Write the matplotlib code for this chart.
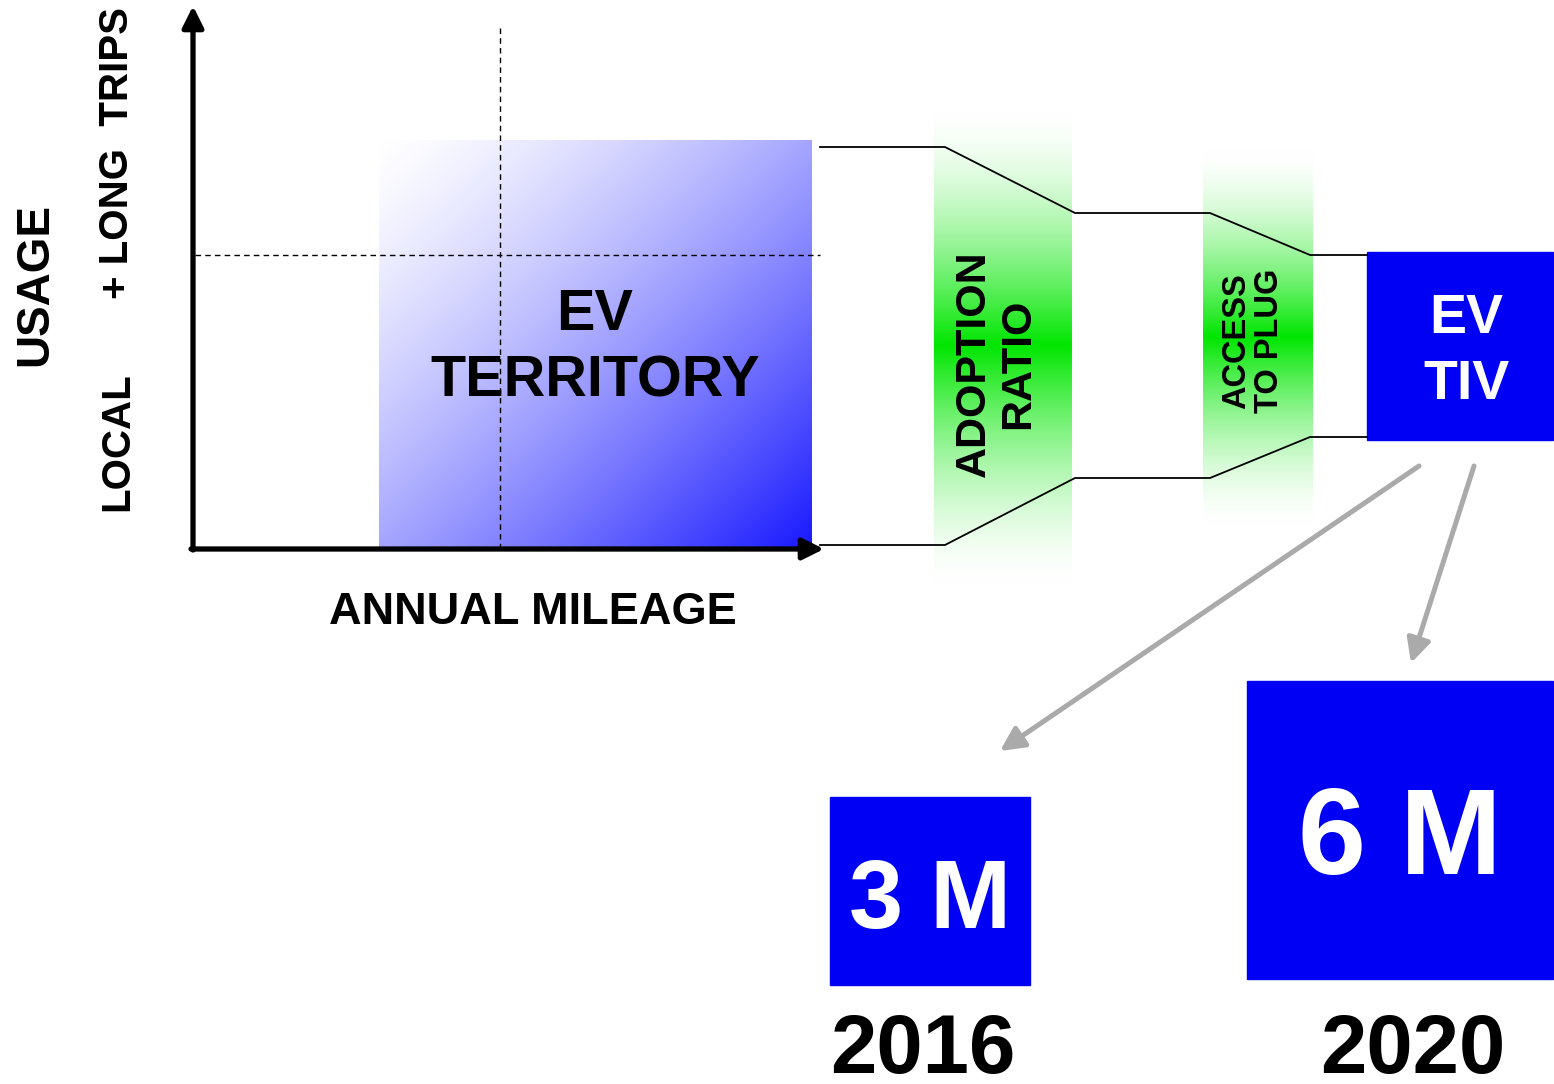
import numpy as np
import matplotlib
matplotlib.use("Agg")
import matplotlib.pyplot as plt
from matplotlib.patches import Rectangle

plt.rcParams['font.family'] = ['Liberation Sans', 'DejaVu Sans']

# --- data ---
funnel_stages = ["ADOPTION\nRATIO", "ACCESS\nTO PLUG"]
funnel_top = [147, 147, 213, 213, 255, 255]      # upper edge of funnel (px from top)
funnel_bottom = [545, 545, 478, 478, 437, 437]   # lower edge of funnel
funnel_x = [820, 945, 1075, 1210, 1310, 1367]
tiv_values = ["3 M", "6 M"]
tiv_years = ["2016", "2020"]

W, H = 1554, 1084
fig = plt.figure(figsize=(W / 100, H / 100), dpi=100)
ax = fig.add_axes([0, 0, 1, 1])
ax.set_xlim(0, W)
ax.set_ylim(H, 0)
ax.axis('off')

# EV territory gradient (white top-left -> blue bottom-right)
gx0, gx1, gy0, gy1 = 379, 812, 140, 548
nx, ny = 200, 200
u = np.linspace(0, 1, nx)[None, :]
v = np.linspace(0, 1, ny)[:, None]
t = np.clip((u + v) / 2, 0, 1) ** 1.35
img = np.zeros((ny, nx, 3))
img[..., 0] = 1 - t * (1 - 25 / 255)
img[..., 1] = 1 - t * (1 - 25 / 255)
img[..., 2] = 1.0
ax.imshow(img, extent=(gx0, gx1, gy1, gy0), aspect='auto', zorder=1)

# dashed quadrant lines
ax.plot([195, 820], [255, 255], ls=(0, (4, 3)), color='black', lw=1, zorder=2)
ax.plot([500, 500], [28, 548], ls=(0, (4, 3)), color='black', lw=1, zorder=2)

# axes arrows
ax.annotate('', xy=(193, 6), xytext=(193, 550),
            arrowprops=dict(arrowstyle='-|>', lw=3.8, color='black', mutation_scale=32,
                            shrinkA=0, shrinkB=0), zorder=3)
ax.annotate('', xy=(824, 549), xytext=(191, 549),
            arrowprops=dict(arrowstyle='-|>', lw=3.8, color='black', mutation_scale=32,
                            shrinkA=0, shrinkB=0), zorder=3)

ax.text(595, 348, "EV\nTERRITORY", ha='center', va='center', fontsize=41.5,
        fontweight='bold', linespacing=1.3, zorder=4)
ax.text(533, 613, "ANNUAL MILEAGE", ha='center', va='center', fontsize=32.5,
        fontweight='bold')
ax.text(35, 284, "USAGE", ha='center', va='center', fontsize=33,
        fontweight='bold', rotation=90)
ax.text(117, 442, "LOCAL", ha='center', va='center', fontsize=29,
        fontweight='bold', rotation=90)
ax.text(117, 153, "+ LONG  TRIPS", ha='center', va='center', fontsize=29,
        fontweight='bold', rotation=90)

# green funnel bands
def green_band(x0, x1, y0, y1, yc):
    n = 400
    ys = np.linspace(y0, y1, n)
    d = np.where(ys < yc, (yc - ys) / (yc - y0), (ys - yc) / (y1 - yc))
    w = np.clip(1 - d, 0, 1) ** 1.6
    band = np.ones((n, 2, 3))
    band[..., 0] = (1 - w)[:, None]
    band[..., 1] = (1 - w * (1 - 230 / 255))[:, None]
    band[..., 2] = (1 - w)[:, None]
    ax.imshow(band, extent=(x0, x1, y1, y0), aspect='auto', zorder=1,
              interpolation='bilinear')

green_band(934, 1072, 110, 585, 345)
green_band(1203, 1313, 150, 525, 337)

ax.plot(funnel_x, funnel_top, color='black', lw=1.3, zorder=3)
ax.plot(funnel_x, funnel_bottom, color='black', lw=1.3, zorder=3)

ax.text(996, 364, funnel_stages[0], ha='center', va='center', fontsize=31,
        fontweight='bold', rotation=90, linespacing=1.12, zorder=4)
ax.text(1253, 341, funnel_stages[1], ha='center', va='center', fontsize=23.5,
        fontweight='bold', rotation=90, linespacing=1.1, zorder=4)

blue = '#0000f5'
# EV TIV box
ax.add_patch(Rectangle((1367, 252), 186, 188, color=blue, zorder=2))
ax.text(1466, 352, "EV\nTIV", ha='center', va='center', fontsize=40,
        fontweight='bold', color='white', linespacing=1.35, zorder=4)

# gray arrows to yearly boxes
for start, end in [((1419, 466), (1000, 751)), ((1474, 466), (1411, 663))]:
    ax.annotate('', xy=end, xytext=start,
                arrowprops=dict(arrowstyle='-|>', lw=3.6, color='#aaaaaa',
                                mutation_scale=36, shrinkA=0, shrinkB=0), zorder=3)

# yearly TIV boxes
boxes = [(830, 797, 200, 188), (1247, 681, 306, 298)]
value_sizes = [70, 88]
for (bx, by, bw, bh), val, fs in zip(boxes, tiv_values, value_sizes):
    ax.add_patch(Rectangle((bx, by), bw, bh, color=blue, zorder=2))
    ax.text(bx + bw / 2, by + bh / 2 + 12, val, ha='center', va='center', fontsize=fs,
            fontweight='bold', color='white', zorder=4)
for x, yr in zip([923, 1413], tiv_years):
    ax.text(x, 1051, yr, ha='center', va='center', fontsize=60, fontweight='bold')

fig.savefig("out.png", dpi=100)
